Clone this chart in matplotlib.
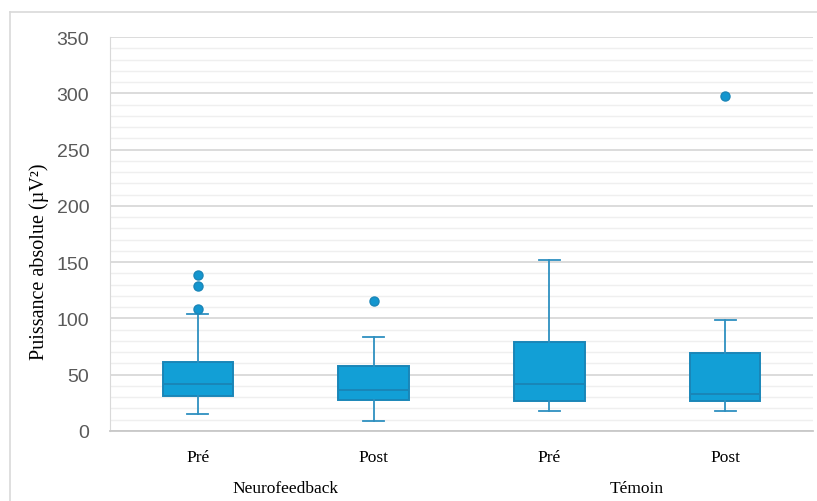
import numpy as np
import matplotlib.pyplot as plt
from matplotlib.lines import Line2D

# valeurs
conditions = ['Pré', 'Post', 'Pré', 'Post']
groupes = ['Neurofeedback', 'Témoin']
q1 = [30.8, 27.8, 26.6, 26.9]
mediane = [41.7, 36.7, 42.0, 33.2]
q3 = [61.5, 58.0, 79.3, 69.3]
moustache_bas = [15.4, 8.9, 17.5, 18.0]
moustache_haut = [103.6, 83.5, 151.8, 98.6]
aberrants = [[108.3, 128.8, 138.8], [115.5], [], [298.0]]

bleu = '#129fd6'
bord = '#1a86b8'
trait = '#2e90c0'


def main():
    fig = plt.figure(figsize=(8.17, 5.02), dpi=100)
    ax = fig.add_axes([110/817, 70/502, 703/817, 394/502])

    stats = []
    for i in range(len(conditions)):
        stats.append(dict(q1=q1[i], med=mediane[i], q3=q3[i],
                          whislo=moustache_bas[i], whishi=moustache_haut[i],
                          fliers=aberrants[i], label=conditions[i]))

    ax.bxp(stats, positions=[1, 2, 3, 4], widths=0.4, capwidths=0.12,
           showfliers=True, patch_artist=True, zorder=3,
           boxprops=dict(facecolor=bleu, edgecolor=bord, linewidth=1.4),
           medianprops=dict(color=bord, linewidth=1.4),
           whiskerprops=dict(color=trait, linewidth=1.3),
           capprops=dict(color=trait, linewidth=1.3),
           flierprops=dict(marker='o', markerfacecolor='#1396cf',
                           markeredgecolor='#1a86b8', markersize=6.5))

    ax.set_xlim(0.5, 4.5)
    ax.set_ylim(0, 350)
    ax.set_yticks(np.arange(0, 351, 50))
    ax.set_yticks(np.arange(0, 351, 10), minor=True)
    ax.grid(True, which='major', axis='y', color='#d9d9d9', linewidth=1.3, zorder=0)
    ax.grid(True, which='minor', axis='y', color='#efefef', linewidth=1.0, zorder=0)
    ax.set_axisbelow(True)

    for s in ['top', 'right']:
        ax.spines[s].set_visible(False)
    ax.spines['left'].set_color('#d9d9d9')
    ax.spines['bottom'].set_color('#c8c8c8')
    ax.spines['bottom'].set_linewidth(1.3)

    ax.tick_params(axis='y', which='both', length=0, pad=15, labelsize=14,
                   labelcolor='#595959')
    for t in ax.get_yticklabels():
        t.set_fontfamily('Liberation Sans')
    ax.tick_params(axis='x', length=0, pad=13)
    ax.set_xticks([1, 2, 3, 4])
    ax.set_xticklabels(conditions, fontfamily='Liberation Serif', fontsize=12.5)

    for j, g in enumerate(groupes):
        ax.text(1.5 + 2*j, -0.145, g, transform=ax.get_xaxis_transform(),
                ha='center', va='center', fontfamily='Liberation Serif', fontsize=12.5)

    fig.text(39/817, 1 - 262/502, 'Puissance absolue (µV²)', rotation=90,
             ha='center', va='center', fontfamily='Liberation Serif', fontsize=14.5)

    # cadre du graphique
    fig.add_artist(Line2D([10/817, 10/817], [0, 1 - 13/502], color='#d9d9d9',
                          linewidth=1.2, transform=fig.transFigure))
    fig.add_artist(Line2D([10/817, 1], [1 - 13/502, 1 - 13/502], color='#d9d9d9',
                          linewidth=1.2, transform=fig.transFigure))

    fig.savefig('out.png', dpi=100)


if __name__ == "__main__":
    main()
